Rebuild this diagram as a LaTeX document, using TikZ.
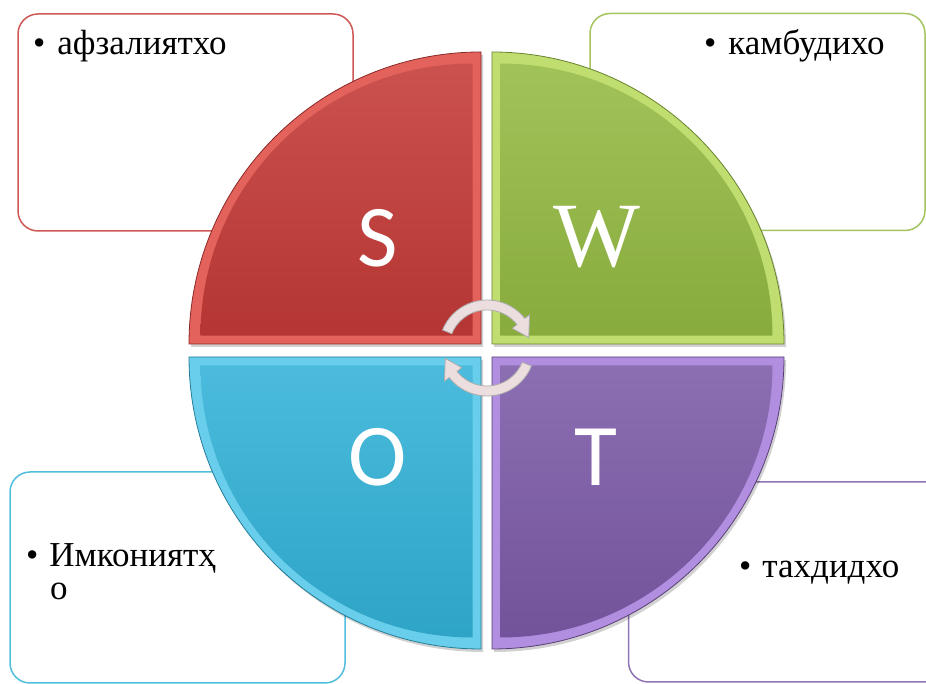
\documentclass[tikz,border=0pt]{standalone}
\usepackage{fontspec}
\setmainfont{Liberation Serif}
\newfontfamily\letterfont{Carlito}
\usetikzlibrary{calc}

\definecolor{sred}{RGB}{196,58,55}
\definecolor{lred}{RGB}{228,98,92}
\definecolor{wgreen}{RGB}{148,186,66}
\definecolor{lgreen}{RGB}{192,222,112}
\definecolor{ocyan}{RGB}{50,178,216}
\definecolor{lcyan}{RGB}{105,206,236}
\definecolor{tpurple}{RGB}{124,90,168}
\definecolor{lpurple}{RGB}{178,142,224}
\definecolor{arrowpink}{RGB}{236,222,222}

\tikzset{
  infobox/.style={draw, line width=1.5pt, rounded corners=20pt, fill=white,
    minimum width=335pt, minimum height=217pt, inner sep=0pt},
  itemtext/.style={anchor=base west, inner sep=0pt, font=\fontsize{35}{35}\selectfont},
  letter/.style={text=white, inner sep=0pt, font=\letterfont\fontsize{88}{88}\selectfont},
}

\begin{document}
\begin{tikzpicture}[x=1pt, y=1pt]
    \useasboundingbox (0,0) rectangle (926,684);
    \clip (0,0) rectangle (926,684);

    % boxes behind the circle
    \node[infobox, draw=sred!85] (sbox) at (185.5,561.5) {};
    \node[infobox, draw=wgreen!85] (wbox) at (757.5,562) {};
    \node[infobox, draw=ocyan!85, minimum height=211pt] (obox) at (177.5,106.5) {};
    \node[infobox, draw=tpurple!85, minimum height=200pt] (tbox) at (796,102) {};

    \node[itemtext] (stext) at (33,629) {\textbullet\hspace{12pt}афзалиятхо};
    \node[itemtext] (wtext) at (704,629) {\textbullet\hspace{12pt}камбудихо};
    \node[itemtext] (otext) at (26,117) {\textbullet\hspace{11pt}Имкониятҳ};
    \node[itemtext] (otextb) at (50,84) {о};
    \node[itemtext] (ttext) at (739,106) {\textbullet\hspace{11pt}тахдидхо};

    % the four quarters
    \foreach \kx/\ky/\a/\base/\lite in {481/340/90/sred/lred, 492/340/0/wgreen/lgreen,
                                         481/327/180/ocyan/lcyan, 492/327/270/tpurple/lpurple}{
        \fill[black, opacity=0.18] (\kx+2,\ky-3) -- +(\a:292)
            arc[start angle=\a, end angle=\a+90, radius=292] -- cycle;
        \fill[\lite] (\kx,\ky) -- +(\a:292)
            arc[start angle=\a, end angle=\a+90, radius=292] -- cycle;
        \shade[top color=\base!88!white, bottom color=\base!92!black] ($(\kx,\ky)+(\a+45:12)$) -- +(\a:272)
            arc[start angle=\a, end angle=\a+90, radius=272] -- cycle;
        \draw[\base!70!black, line width=0.8pt] (\kx,\ky) -- +(\a:292)
            arc[start angle=\a, end angle=\a+90, radius=292] -- cycle;
    }

    \node[letter] (sletter) at (378,446) {S};
    \node[letter, font=\fontsize{92}{92}\selectfont] (wletter) at (597,447) {W};
    \node[letter] (oletter) at (378,227) {O};
    \node[letter] (tletter) at (596,227) {T};

    % turning arrows
    \coordinate (hub) at (487,336);
    \foreach \r in {0,180}{
        \begin{scope}[shift={(hub)}, rotate=\r]
            \draw[fill=arrowpink, draw=gray!65, line width=0.8pt]
                (158:48) arc[start angle=158, end angle=38, radius=48] -- (38:54) -- (14:43)
                -- (38:32) -- (38:38) arc[start angle=38, end angle=158, radius=38] -- cycle;
        \end{scope}
    }
\end{tikzpicture}
\end{document}
